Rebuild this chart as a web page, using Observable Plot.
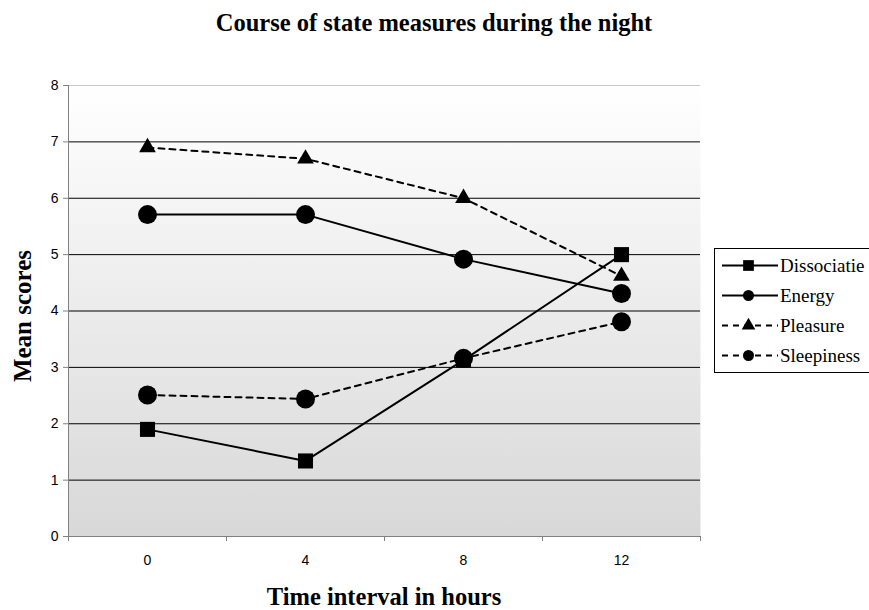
<!DOCTYPE html>
<html>
<head>
<meta charset="utf-8">
<script src="https://cdn.jsdelivr.net/npm/d3@7"></script>
<script src="https://cdn.jsdelivr.net/npm/@observablehq/plot@0.6"></script>
<style>
  html, body { margin: 0; padding: 0; background: #fff; }
</style>
</head>
<body>
<div id="chart"></div>
<script>
const hours = [0, 4, 8, 12];
const seriesNames = ["Dissociatie", "Energy", "Pleasure", "Sleepiness"];
const dissociatie = [1.9, 1.34, 3.13, 5.0];
const energy = [5.71, 5.71, 4.92, 4.31];
const pleasure = [6.9, 6.7, 6.0, 4.62];
const sleepiness = [2.51, 2.44, 3.16, 3.81];
const yTicks = [0, 1, 2, 3, 4, 5, 6, 7, 8];
const gridValues = [1, 2, 3, 4, 5, 6, 7];
const xBoundaries = [-2, 2, 6, 10, 14];

const titleText = "Course of state measures during the night";
const xLabel = "Time interval in hours";
const yLabel = "Mean scores";

const seriesValues = [dissociatie, energy, pleasure, sleepiness];
const symbols = ["square", "circle", "triangle", "circle"];
const dashed = [false, false, true, true];
const radii = [8.5, 9.5, 6.2, 9.5];
const legendSizes = [115, 95, 80, 95]; // symbol areas in legend

const data = [];
seriesNames.forEach((name, i) => {
  hours.forEach((h, j) => data.push({series: name, hour: h, value: seriesValues[i][j]}));
});

const marks = [
  Plot.frame({fill: "url(#bgGrad)"}),
  Plot.ruleY(gridValues, {stroke: "#000", strokeWidth: 1}),
  Plot.ruleY([8], {stroke: "#c8c8c8", strokeWidth: 1}),
  Plot.ruleY([0], {stroke: "#808080", strokeWidth: 1}),
  Plot.ruleX([-2], {stroke: "#808080", strokeWidth: 1}),
  Plot.axisY({ticks: yTicks, tickSize: 5, tickPadding: 5, stroke: "#808080",
              fill: "#000", label: null, tickFormat: d => String(d)}),
  Plot.axisX({ticks: hours, tickSize: 0, tickPadding: 19, fill: "#000",
              label: null, tickFormat: d => String(d)}),
  Plot.axisX({ticks: xBoundaries, tickSize: 5, stroke: "#808080", tickFormat: () => "", label: null})
];

seriesNames.forEach((name, i) => {
  const rows = data.filter(d => d.series === name);
  marks.push(Plot.line(rows, {x: "hour", y: "value", stroke: "#000", strokeWidth: 2,
    strokeDasharray: dashed[i] ? "6,5" : null}));
});
seriesNames.forEach((name, i) => {
  const rows = data.filter(d => d.series === name);
  marks.push(Plot.dot(rows, {x: "hour", y: "value", symbol: () => symbols[i], r: radii[i],
    fill: "#000", stroke: "none"}));
});

const chart = Plot.plot({
  width: 869,
  height: 610,
  marginLeft: 68,
  marginRight: 169,
  marginTop: 85,
  marginBottom: 74,
  style: {fontFamily: "'Liberation Sans', Arial, sans-serif", background: "#fff", overflow: "visible"},
  x: {domain: [-2, 14], axis: null},
  y: {domain: [0, 8], axis: null},
  symbol: {type: "identity"},
  marks
});

document.getElementById("chart").appendChild(chart);

const svg = d3.select(chart);
svg.selectAll("text").style("font-size", "14px").style("font-family", "'Liberation Sans', Arial, sans-serif");

const defs = svg.insert("defs", ":first-child");
const grad = defs.append("linearGradient").attr("id", "bgGrad")
  .attr("x1", 0).attr("y1", 0).attr("x2", 0).attr("y2", 1);
grad.append("stop").attr("offset", "0%").attr("stop-color", "#ffffff");
grad.append("stop").attr("offset", "100%").attr("stop-color", "#d8d8d8");

const serif = "'Liberation Serif', 'Times New Roman', serif";
function addText(sel) {
  return sel.append("text").style("font-family", serif).attr("fill", "#000");
}
addText(svg).text(titleText)
  .attr("x", 434).attr("y", 31).attr("text-anchor", "middle")
  .style("font-weight", "bold").style("font-size", "24.5px");
addText(svg).text(xLabel)
  .attr("x", 384).attr("y", 605).attr("text-anchor", "middle")
  .style("font-weight", "bold").style("font-size", "24.5px");
addText(svg).text(yLabel)
  .attr("transform", "translate(31,316) rotate(-90)").attr("text-anchor", "middle")
  .style("font-weight", "bold").style("font-size", "25px");

// Legend
const lg = svg.append("g").attr("text-anchor", "start");
lg.append("rect").attr("x", 714.5).attr("y", 248.5).attr("width", 160).attr("height", 124)
  .attr("fill", "#fff").attr("stroke", "#000").attr("stroke-width", 1);
const entryY = [265.5, 295.5, 325.5, 355.5];
seriesNames.forEach((name, i) => {
  const y = entryY[i];
  lg.append("line").attr("x1", 722).attr("x2", 778).attr("y1", y).attr("y2", y)
    .attr("stroke", "#000").attr("stroke-width", 2)
    .attr("stroke-dasharray", dashed[i] ? "6,5" : null);
  const sym = d3.symbol().type(symbols[i] === "square" ? d3.symbolSquare :
    symbols[i] === "triangle" ? d3.symbolTriangle : d3.symbolCircle)
    .size(legendSizes[i]);
  lg.append("path").attr("d", sym()).attr("transform", `translate(748.5,${y})`).attr("fill", "#000");
  addText(lg).text(name).attr("x", 780).attr("y", y + 6.5).attr("text-anchor", "start")
    .style("font-size", "19px");
});
</script>
</body>
</html>
